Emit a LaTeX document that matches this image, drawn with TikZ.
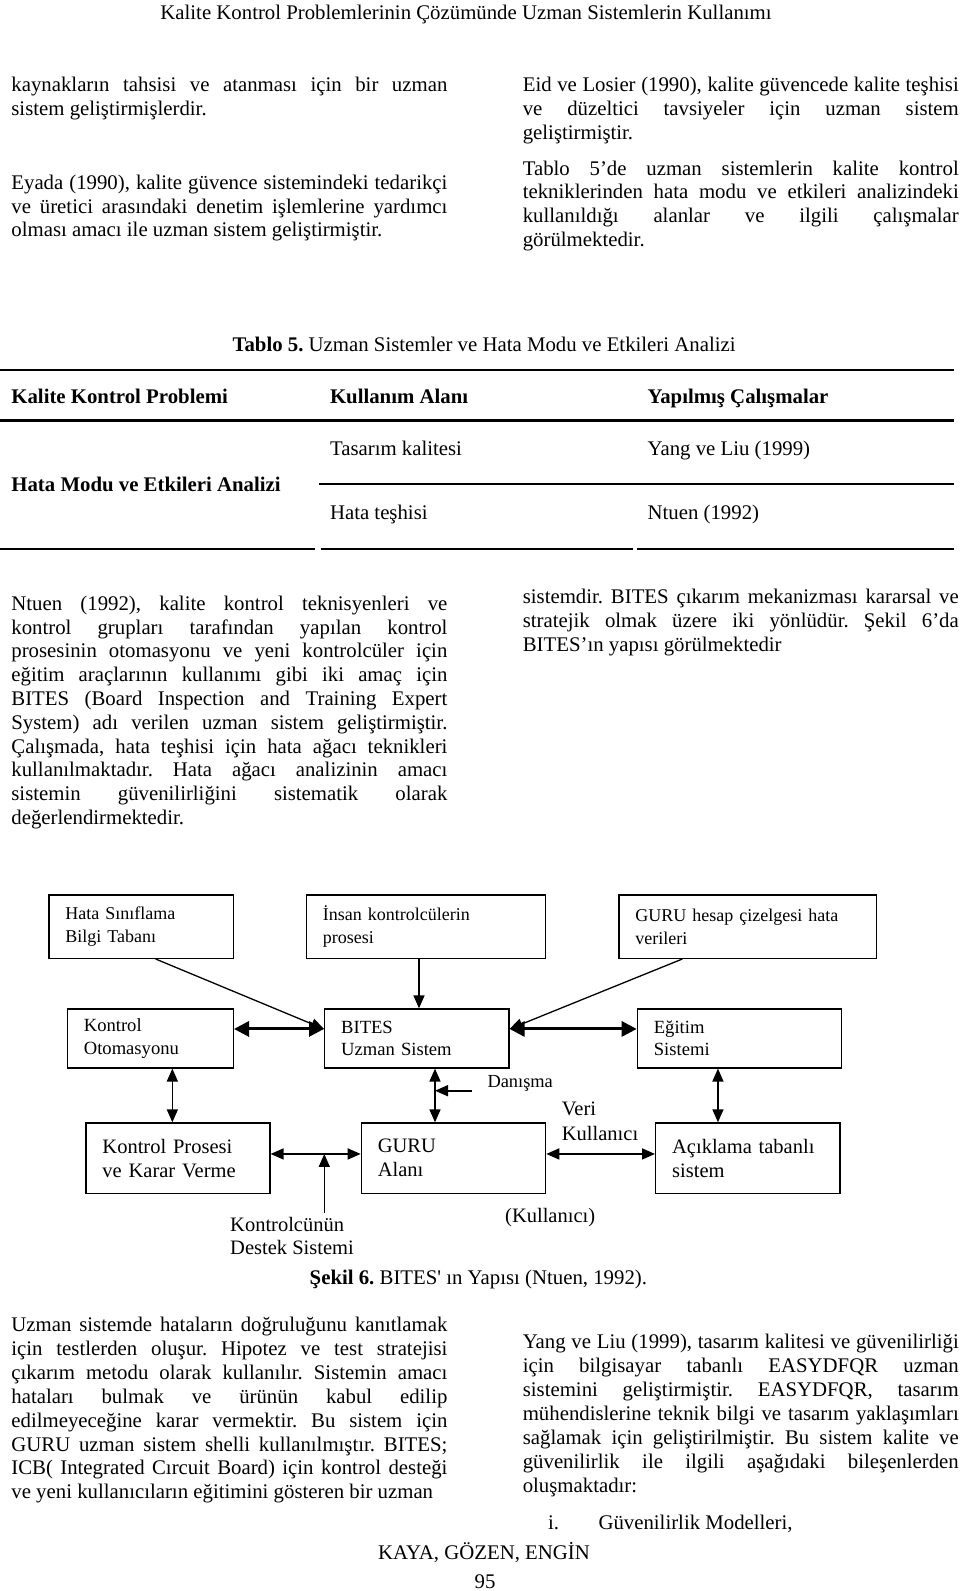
\documentclass[tikz,border=0pt]{standalone}
\usepackage{fontspec}
\setmainfont{Liberation Serif}
\newfontfamily\plainrm{Liberation Serif}
\usetikzlibrary{arrows.meta,calc}
\frenchspacing
\newlength\colw \setlength\colw{436pt}
\newcommand\Jl[1]{\makebox[\colw][s]{#1}}
\newcommand\bodyfont{\fontsize{20.8pt}{24pt}\selectfont\frenchspacing}
\newcommand\JL[4]{\node[txt] (#1) at (#2,#3) {\Jl{#4}};}
\newcommand\LL[4]{\node[txt] (#1) at (#2,#3) {#4};}
\begin{document}
\begin{tikzpicture}[x=1pt,y=-1pt,
  txt/.style={font=\bodyfont, inner sep=0pt, anchor=base west},
  box/.style={draw, line width=1.3pt, align=left, inner xsep=16.5pt, inner ysep=0pt, anchor=north west},
  toprow/.style={box, font=\fontsize{18pt}{22.4pt}\selectfont, minimum height=63.4pt},
  midrow/.style={box, font=\fontsize{18.6pt}{22.3pt}\selectfont, minimum height=59pt},
  botrow/.style={box, font=\fontsize{20.5pt}{24pt}\selectfont, minimum height=70.4pt},
  ar/.style={line width=1.6pt, -{Triangle[length=13pt,width=11pt]}},
  dar/.style={line width=1.6pt, {Triangle[length=13pt,width=11pt]}-{Triangle[length=13pt,width=11pt]}},
  thk/.style={line width=3pt, {Triangle[length=15pt,width=15pt]}-{Triangle[length=15pt,width=15pt]}},
  diag/.style={line width=1.3pt, -{Triangle[length=13pt,width=11pt]}},
  rule/.style={line width=#1}
]
\useasboundingbox (0,0) rectangle (960,1591);

% header
\node[font=\bodyfont, inner sep=0pt, anchor=base] (hdr) at (466,19) {Kalite Kontrol Problemlerinin Çözümünde Uzman Sistemlerin Kullanımı};

% top left column
\JL{a1}{11.2}{91.5}{kaynakların tahsisi ve atanması için bir uzman}
\LL{a2}{11.2}{115.5}{sistem geliştirmişlerdir.}
\JL{a3}{11.2}{189.2}{Eyada (1990), kalite güvence sistemindeki tedarikçi}
\JL{a4}{11.2}{213}{ve üretici arasındaki denetim işlemlerine yardımcı}
\LL{a5}{11.2}{236.8}{olması amacı ile uzman sistem geliştirmiştir.}

% top right column
\JL{b1}{522.6}{91.5}{Eid ve Losier (1990), kalite güvencede kalite teşhisi}
\JL{b2}{522.6}{115.3}{ve düzeltici tavsiyeler için uzman sistem}
\LL{b3}{522.6}{139.1}{geliştirmiştir.}
\JL{b4}{522.6}{175}{Tablo 5’de uzman sistemlerin kalite kontrol}
\JL{b5}{522.6}{198.8}{tekniklerinden hata modu ve etkileri analizindeki}
\JL{b6}{522.6}{222.6}{kullanıldığı alanlar ve ilgili çalışmalar}
\LL{b7}{522.6}{246.4}{görülmektedir.}

% table
\LL{tt}{232.4}{351.5}{\textbf{Tablo 5.} Uzman Sistemler ve Hata Modu ve Etkileri Analizi}
\draw[rule=2pt] (0,370.4) -- (954,370.4);
\LL{th1}{11.2}{403.3}{\textbf{Kalite Kontrol Problemi}}
\LL{th2}{329.8}{403.3}{\textbf{Kullanım Alanı}}
\LL{th3}{647.4}{403.3}{\textbf{Yapılmış Çalışmalar}}
\draw[rule=3pt] (0,420.1) -- (954,420.1);
\LL{tc1}{329.8}{455}{Tasarım kalitesi}
\LL{tc2}{647.4}{455}{Yang ve Liu (1999)}
\LL{tc3}{11.2}{491.5}{\textbf{Hata Modu ve Etkileri Analizi}}
\draw[rule=2pt] (318.6,484) -- (954,484);
\LL{tc4}{329.8}{519}{Hata teşhisi}
\LL{tc5}{647.4}{519}{Ntuen (1992)}
\draw[rule=1.5pt] (0,549) -- (314.6,549);
\draw[rule=2.3pt] (320.7,549) -- (633.2,549);
\draw[rule=2.3pt] (637.3,549) -- (954,549);

% middle left column
\JL{c1}{11.2}{610.3}{Ntuen (1992), kalite kontrol teknisyenleri ve}
\JL{c2}{11.2}{634.1}{kontrol grupları tarafından yapılan kontrol}
\JL{c3}{11.2}{657.9}{prosesinin otomasyonu ve yeni kontrolcüler için}
\JL{c4}{11.2}{681.7}{eğitim araçlarının kullanımı gibi iki amaç için}
\JL{c5}{11.2}{705.5}{BITES (Board Inspection and Training Expert}
\JL{c6}{11.2}{729.3}{System) adı verilen uzman sistem geliştirmiştir.}
\JL{c7}{11.2}{753.1}{Çalışmada, hata teşhisi için hata ağacı teknikleri}
\JL{c8}{11.2}{776.9}{kullanılmaktadır. Hata ağacı analizinin amacı}
\JL{c9}{11.2}{800.7}{sistemin güvenilirliğini sistematik olarak}
\LL{c10}{11.2}{824.5}{değerlendirmektedir.}

% middle right column
\JL{d1}{522.6}{603.5}{sistemdir. BITES çıkarım mekanizması kararsal ve}
\JL{d2}{522.6}{627.3}{stratejik olmak üzere iki yönlüdür. Şekil 6’da}
\LL{d3}{522.6}{651.1}{BITES’ın yapısı görülmektedir}

% diagram boxes
\node[toprow, text width=151.4pt] (hata) at (48.3,894.3) {Hata Sınıflama\\Bilgi Tabanı};
\node[toprow, text width=206.3pt] (insan) at (305.7,894.3) {İnsan kontrolcülerin\\prosesi};
\node[toprow, text width=224.7pt] (gurudata) at (618.3,894.3) {GURU hesap çizelgesi hata\\verileri};
\node[midrow, text width=133pt] (kotom) at (66.7,1008.3) {Kontrol\\Otomasyonu};
\node[midrow, text width=151.3pt] (bites) at (324,1008.3) {BITES\\Uzman Sistem};
\node[midrow, text width=171pt] (egitim) at (636.7,1008.3) {Eğitim\\Sistemi};
\node[botrow, text width=151pt] (kpro) at (85.3,1122.3) {Kontrol Prosesi\\ve Karar Verme};
\node[botrow, text width=151.3pt] (guru) at (360.7,1122.3) {GURU\\Alanı};
\node[botrow, text width=151.3pt] (acik) at (655,1122.3) {Açıklama tabanlı\\sistem};

% connectors
\draw[thk] ([yshift=9.5pt]kotom.east) -- ([yshift=9.5pt]bites.west);
\draw[diag] ([xshift=14.5pt]hata.south) -- ([yshift=9.5pt]bites.west);
\draw[ar] ([xshift=-7pt]insan.south) -- ([xshift=-7pt]insan.south |- bites.north);
\draw[diag] ([xshift=-65.5pt]gurudata.south) -- ([yshift=9.5pt]bites.east);
\draw[thk] ([yshift=9.5pt]bites.east) -- ([yshift=9.5pt]egitim.west);
\draw[dar] ([xshift=22pt]kotom.south) -- ([xshift=22pt]kotom.south |- kpro.north);
\coordinate (bv) at ([xshift=18.2pt]bites.south);
\draw[dar] (bv) -- (bv |- guru.north);
\coordinate (dan) at (471.7,1090.7);
\draw[ar] (dan) -- (dan -| bv);
\coordinate (kg) at ([yshift=4.2pt]kpro.east);
\draw[dar] (kg) -- ([yshift=4.2pt]guru.west);
\coordinate (kd) at (324.3,1212.7);
\draw[ar] (kd) -- (kd |- kg);
\draw[dar] ([xshift=-21.4pt]egitim.south) -- ([xshift=-21.4pt]egitim.south |- acik.north);
\draw[dar] ([yshift=4.2pt]guru.east) -- ([yshift=4.2pt]acik.west);

% diagram labels
\node[font=\fontsize{18.4pt}{22pt}\selectfont, inner sep=0pt, anchor=base west] (ldan) at (487.3,1087.7) {Danışma};
\node[font=\fontsize{20.5pt}{24pt}\selectfont, inner sep=0pt, anchor=base west] (lveri) at (561.7,1115) {Veri};
\node[font=\fontsize{20.5pt}{24pt}\selectfont, inner sep=0pt, anchor=base west] (lkul) at (561.7,1140.5) {Kullanıcı};
\node[font=\fontsize{20.5pt}{24pt}\selectfont, inner sep=0pt, anchor=base west] (lkon) at (230,1231.5) {Kontrolcünün};
\node[font=\fontsize{20.5pt}{24pt}\selectfont, inner sep=0pt, anchor=base west] (ldes) at (230,1254.8) {Destek Sistemi};
\node[font=\fontsize{20.5pt}{24pt}\selectfont, inner sep=0pt, anchor=base west] (lkul2) at (505,1222.5) {(Kullanıcı)};
\LL{cap}{309.5}{1284}{\textbf{Şekil 6.} BITES{\plainrm '} ın Yapısı (Ntuen, 1992).}

% bottom left column
\JL{e1}{11.2}{1331.5}{Uzman sistemde hataların doğruluğunu kanıtlamak}
\JL{e2}{11.2}{1355.4}{için testlerden oluşur. Hipotez ve test stratejisi}
\JL{e3}{11.2}{1379.3}{çıkarım metodu olarak kullanılır. Sistemin amacı}
\JL{e4}{11.2}{1403.2}{hataları bulmak ve ürünün kabul edilip}
\JL{e5}{11.2}{1427.1}{edilmeyeceğine karar vermektir. Bu sistem için}
\JL{e6}{11.2}{1451}{GURU uzman sistem shelli kullanılmıştır. BITES;}
\JL{e7}{11.2}{1474.9}{ICB( Integrated Cırcuit Board) için kontrol desteği}
\LL{e8}{11.2}{1498.8}{ve yeni kullanıcıların eğitimini gösteren bir uzman}

% bottom right column
\JL{f1}{522.6}{1348.8}{Yang ve Liu (1999), tasarım kalitesi ve güvenilirliği}
\JL{f2}{522.6}{1372.7}{için bilgisayar tabanlı EASYDFQR uzman}
\JL{f3}{522.6}{1396.6}{sistemini geliştirmiştir. EASYDFQR, tasarım}
\JL{f4}{522.6}{1420.5}{mühendislerine teknik bilgi ve tasarım yaklaşımları}
\JL{f5}{522.6}{1444.4}{sağlamak için geliştirilmiştir. Bu sistem kalite ve}
\JL{f6}{522.6}{1468.3}{güvenilirlik ile ilgili aşağıdaki bileşenlerden}
\LL{f7}{522.6}{1492.2}{oluşmaktadır:}
\LL{g1}{548}{1529.8}{i.}
\LL{g2}{598.3}{1529.8}{Güvenilirlik Modelleri,}

% footer
\node[font=\bodyfont, inner sep=0pt, anchor=base] (ft1) at (484,1559.8) {KAYA, GÖZEN, ENGİN};
\node[font=\bodyfont, inner sep=0pt, anchor=base] (ft2) at (485,1588.5) {95};
\end{tikzpicture}
\end{document}
